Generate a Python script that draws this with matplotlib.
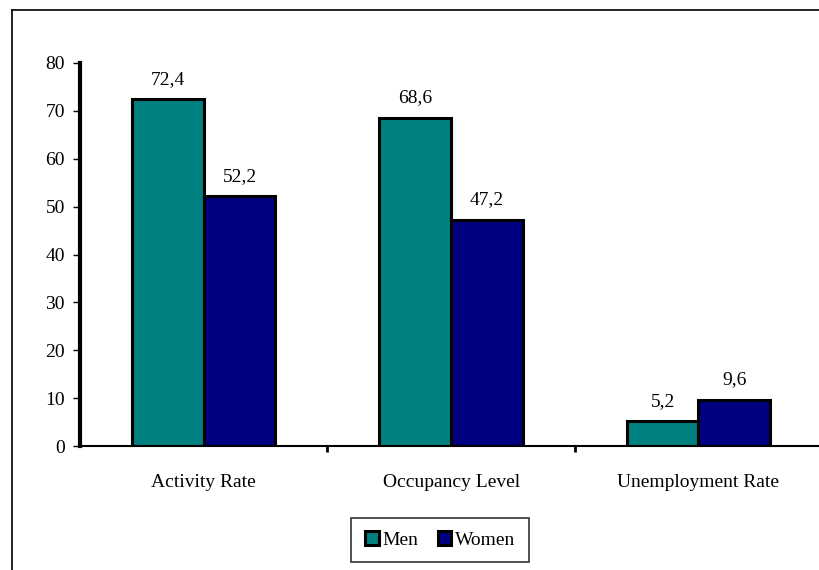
import numpy as np
import matplotlib.pyplot as plt
from matplotlib.lines import Line2D

plt.rcParams['font.family'] = ['Liberation Serif', 'DejaVu Serif']

categories = ['Activity Rate', 'Occupancy Level', 'Unemployment Rate']
men = [72.4, 68.6, 5.2]
women = [52.2, 47.2, 9.6]
yticks = [0, 10, 20, 30, 40, 50, 60, 70, 80]

teal = '#008080'
navy = '#000080'

fig = plt.figure(figsize=(8.2, 5.7), dpi=100)
ax = fig.add_axes([0.0976, 0.2175, 0.905, 0.672])

x = np.arange(len(categories))
w = 0.29
b1 = ax.bar(x - w/2, men, w, color=teal, edgecolor='black', linewidth=2.2, label='Men')
b2 = ax.bar(x + w/2, women, w, color=navy, edgecolor='black', linewidth=2.2, label='Women')

for bars, vals in ((b1, men), (b2, women)):
    for r, v in zip(bars, vals):
        ax.text(r.get_x() + r.get_width()/2, v + 2.4, f'{v:.1f}'.replace('.', ','),
                ha='center', va='bottom', fontsize=14)

ax.set_ylim(0, 80)
ax.set_xlim(-0.5, 2.5)
ax.set_yticks(yticks)
ax.tick_params(axis='y', labelsize=14, length=5, width=1, direction='out', pad=6)
ax.set_xticks(x)
ax.set_xticklabels(categories, fontsize=14)
ax.tick_params(axis='x', length=0, pad=20)
ax.set_xticks([0.5, 1.5], minor=True)
ax.tick_params(axis='x', which='minor', length=4, width=2, direction='out')

for s in ('top', 'right'):
    ax.spines[s].set_visible(False)
ax.spines['left'].set_linewidth(3)
ax.spines['bottom'].set_linewidth(1.5)

leg = fig.legend(loc='center', bbox_to_anchor=(0.537, 0.0526), ncol=2, fontsize=14,
                 frameon=True, fancybox=False, edgecolor='black', handlelength=0.7,
                 handleheight=0.7, handletextpad=0.2, columnspacing=1.0, borderpad=0.7)
leg.get_frame().set_linewidth(1.2)

# outer chart frame (cut off at right/bottom)
fig.add_artist(Line2D([12/820, 12/820], [0, 560/570], color='black', lw=1.2, transform=fig.transFigure))
fig.add_artist(Line2D([12/820, 1], [560/570, 560/570], color='black', lw=1.2, transform=fig.transFigure))

fig.savefig('out.png', dpi=100)
